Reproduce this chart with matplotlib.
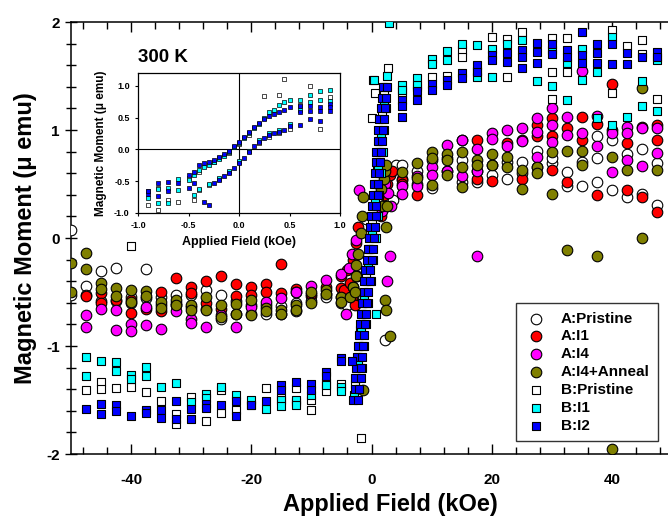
import matplotlib
matplotlib.use("Agg")
import matplotlib.pyplot as plt
from matplotlib.ticker import MultipleLocator

plt.rcParams['font.family'] = ['Liberation Sans', 'DejaVu Sans']
plt.rcParams['font.weight'] = 'bold'
plt.rcParams['axes.labelweight'] = 'bold'

# ---------------- main-plot data (field in kOe, moment in micro-emu) ----------------
A_pristine_x = [-50, -50, -47.5, -47.5, -45, -45, -42.5, -42.5, -40, -40, -37.5, -37.5, -35, -35,
                -32.5, -32.5, -30, -30, -27.5, -27.5, -25, -25, -22.5, -22.5, -20, -20, -17.5, -17.5,
                -15, -15, -12.5, -12.5, -10, -10, -7.5, -7.5, -5, -5,
                -4.0, -3.0, -2.5, -0.9, 2.2, 3.5, 3.0, 4.0,
                5, 5, 7.5, 7.5, 10, 10, 12.5, 12.5, 15, 15, 17.5, 17.5, 20, 20, 22.5, 22.5, 25, 25,
                27.5, 27.5, 30, 30, 32.5, 32.5, 35, 35, 37.5, 37.5, 37.5, 40, 40, 42.5, 42.5,
                45, 45, 47.5, 47.5]
A_pristine_y = [0.07, -0.53, -0.44, -0.53, -0.31, -0.58, -0.28, -0.58, -0.55, -0.60, -0.29, -0.56, -0.55, -0.62,
                -0.53, -0.62, -0.53, -0.64, -0.48, -0.66, -0.53, -0.75, -0.58, -0.70, -0.62, -0.70, -0.62, -0.70,
                -0.63, -0.70, -0.60, -0.68, -0.54, -0.58, -0.52, -0.55, -0.55, -0.60,
                -0.62, -0.55, -0.30, 0.18, -0.94, 0.35, 0.62, 0.68,
                0.68, 0.55, 0.62, 0.50, 0.72, 0.46, 0.74, 0.62, 0.72, 0.52, 0.62, 0.52, 0.68, 0.58, 0.70, 0.55, 0.70, 0.60,
                0.81, 0.66, 0.69, 0.74, 0.61, 0.48, 0.48, 0.70, 0.94, 0.74, 0.52, 0.91, 0.44, 0.78, 0.38,
                0.82, 0.41, 0.69, 0.31]

A_I1_x = [-47.5, -45, -45, -42.5, -40, -40, -37.5, -35, -35, -32.5, -32.5, -30, -30, -27.5, -27.5,
          -25, -25, -22.5, -22.5, -20, -20, -17.5, -17.5, -15, -15, -12.5, -12.5, -10, -7.5, -5, -5,
          -4.5, -4.0, -3.6, -3.3, -3.0, -2.8, -2.6, -2.2, 1.6, 2.0, 2.4, 2.6, 3.0, 3.4,
          5, 5, 7.5, 15, 17.5, 17.5, 20, 22.5, 25, 25, 27.5, 27.5, 30, 30, 30, 32.5, 32.5,
          35, 35, 37.5, 37.5, 40, 40, 42.5, 42.5, 45, 45, 47.5, 47.5, 47.5]
A_I1_y = [-0.54, -0.51, -0.60, -0.57, -0.57, -0.69, -0.66, -0.50, -0.68, -0.37, -0.60, -0.45, -0.51, -0.40, -0.60,
          -0.35, -0.66, -0.43, -0.54, -0.45, -0.53, -0.43, -0.50, -0.24, -0.51, -0.47, -0.50, -0.52, -0.45, -0.35, -0.46,
          -0.48, -0.30, -0.42, -0.55, -0.20, -0.62, -0.05, 0.10, 0.20, 0.40, 0.30, 0.50, 0.58, 0.62,
          0.54, 0.50, 0.40, 0.91, 0.91, 0.55, 0.53, 0.88, 0.91, 0.55, 1.05, 0.94, 1.11, 0.94, 0.63, 1.02, 0.52,
          1.12, 0.91, 1.06, 0.40, 1.43, 1.00, 0.88, 0.44, 1.03, 0.38, 1.05, 0.91, 0.24]

A_I4_x = [-47.5, -47.5, -45, -42.5, -42.5, -40, -40, -37.5, -37.5, -35, -32.5, -30, -30, -27.5,
          -25, -22.5, -20, -17.5, -15, -12.5, -10, -7.5, -5,
          -4.2, -3.8, -3.3, -3.0, -2.6, -2.4, -2.0, 1.8, 2.2, 2.6, 2.8, 3.0, 3.3,
          5, 5, 7.5, 7.5, 10, 10, 12.5, 12.5, 15, 15, 17.5, 17.5, 17.5, 20, 20, 22.5, 22.5, 25, 25,
          27.5, 27.5, 27.5, 30, 30, 30, 32.5, 32.5, 35, 35, 37.5, 37.5, 40, 40, 42.5, 42.5, 42.5,
          45, 45, 47.5, 47.5]
A_I4_y = [-0.71, -0.82, -0.66, -0.67, -0.85, -0.80, -0.86, -0.64, -0.81, -0.84, -0.68, -0.75, -0.79, -0.82,
          -0.71, -0.82, -0.64, -0.59, -0.56, -0.50, -0.44, -0.39, -0.33,
          -0.70, -0.28, -0.15, -0.45, -0.02, -0.35, 0.44, 0.25, 0.50, -0.40, 0.42, -0.17, 0.30,
          0.48, 0.41, 0.57, 0.48, 0.66, 0.58, 0.86, 0.62, 0.91, 0.57, 0.82, 0.62, -0.17, 0.97, 0.92, 1.00, 0.85, 1.02, 0.90,
          1.11, 0.98, 0.75, 1.20, 1.05, 0.89, 1.12, 0.95, 0.97, 1.55, 1.13, 0.85, 0.97, 0.61, 1.03, 0.97, 0.72,
          1.02, 0.67, 1.02, 0.79]

A_I4A_x = [-50, -50, -47.5, -47.5, -45, -45, -42.5, -42.5, -40, -40, -37.5, -37.5, -35, -35,
           -32.5, -32.5, -30, -30, -27.5, -27.5, -25, -25, -22.5, -22.5, -20, -20, -17.5, -17.5,
           -15, -15, -12.5, -12.5, -10, -10, -7.5, -7.5, -5, -5,
           -3.5, -3.0, -2.8, -2.6, -2.5, -2.2, -1.8, -1.6, -1.4, 1.5, 1.8, 2.0, 2.2, 2.4, 2.4, 2.5,
           2.2, 2.4, 3.0, -1.4,
           5, 7.5, 7.5, 10, 10, 10, 12.5, 12.5, 12.5, 15, 15, 15, 17.5, 17.5, 20, 20, 22.5, 22.5,
           25, 25, 27.5, 27.5, 30, 30, 32.5, 32.5, 35, 35, 37.5, 40, 40, 42.5, 45, 45, 47.5]
A_I4A_y = [-0.23, -0.50, -0.14, -0.29, -0.42, -0.47, -0.46, -0.54, -0.48, -0.59, -0.49, -0.54, -0.59, -0.65,
           -0.57, -0.62, -0.62, -0.67, -0.55, -0.67, -0.62, -0.73, -0.61, -0.70, -0.57, -0.71, -0.65, -0.68,
           -0.67, -0.70, -0.62, -0.67, -0.50, -0.60, -0.48, -0.52, -0.55, -0.59,
           -0.55, -0.45, -0.50, -0.35, -0.25, -0.15, 0.05, 0.20, 0.38, 0.45, 0.30, 0.55, 0.62, 0.68, 0.10, 0.30,
           -0.57, -0.67, -0.91, -1.41,
           0.61, 0.69, 0.56, 0.80, 0.74, 0.49, 0.78, 0.72, 0.58, 0.80, 0.66, 0.47, 0.72, 0.68, 0.78, 0.68, 0.75, 0.66,
           0.63, 0.45, 0.66, 0.60, 0.80, 0.41, 0.81, -0.11, 0.81, 0.68, -0.17, 0.75, -1.95, 0.63, 1.39, 0.00, 0.63]

B_pristine_x = [-47.5, -45, -45, -42.5, -40, -40, -37.5, -35, -32.5, -32.5, -30, -27.5, -25, -25,
                -22.5, -20, -17.5, -15, -12.5, -12.5, -10, -10, -7.5, -5, -1.7,
                -2.8, -2.3, -1.9, -1.4, -0.9, -0.4, 0.1, 0.5, 0.9, 1.3, 1.7, 2.1, 0.2, 0.5, 0.0, 2.7,
                5, 7.5, 10, 12.5, 15, 15, 17.5, 20, 22.5, 22.5, 25, 30, 30, 30, 32.5, 32.5,
                40, 40, 42.5, 45, 45, 47.5]
B_pristine_y = [-1.41, -1.33, -1.40, -1.39, -1.38, -0.07, -1.43, -1.51, -1.63, -1.72, -1.47, -1.69, -1.41, -1.62,
                -1.59, -1.55, -1.39, -1.48, -1.39, -1.52, -1.50, -1.59, -1.42, -1.35, -1.85,
                -1.35, -1.10, -0.85, -0.60, -0.35, -0.10, 0.15, 0.40, 0.65, 0.90, 1.15, 1.35, 1.46, 1.34, 1.11, 1.57,
                1.35, 1.40, 1.49, 1.50, 1.74, 1.68, 1.55, 1.86, 1.84, 1.49, 1.91, 1.85, 1.54, 1.29, 1.85, 1.54,
                1.93, 1.34, 1.78, 1.83, 1.70, 1.29]

B_I1_x = [-47.5, -47.5, -45, -42.5, -42.5, -40, -40, -37.5, -37.5, -35, -32.5, -30, -27.5, -27.5,
          -25, -22.5, -20, -17.5, -15, -15, -12.5, -12.5, -10, -7.5, -7.5, -5, -5,
          -2.9, -2.6, -2.3, -2.1, -1.8, -1.5, -1.2, -0.9, -0.6, -0.3, 0.0, 0.3, 0.5, 0.8, 1.0, 1.3, 1.5,
          1.7, 2.0, 2.3, 2.6, 2.9,
          -2.0, -1.6, -1.3, -0.9, -0.5, -0.1, 0.3, 0.7, 1.0, 1.3, 1.6, 1.9, 2.1, 2.4, 0.8, 0.4,
          5, 5, 7.5, 7.5, 10, 10, 12.5, 12.5, 15, 17.5, 17.5, 20, 20, 22.5, 25, 27.5, 30, 30,
          32.5, 32.5, 35, 35, 37.5, 37.5, 40, 40, 42.5, 45, 45, 47.5, 47.5]
B_I1_y = [-1.10, -1.28, -1.14, -1.15, -1.23, -1.27, -1.31, -1.19, -1.28, -1.38, -1.34, -1.52, -1.44, -1.48,
          -1.38, -1.45, -1.50, -1.58, -1.50, -1.56, -1.50, -1.55, -1.45, -1.34, -1.36, -1.38, -1.42,
          -1.45, -1.30, -1.15, -1.00, -0.85, -0.70, -0.55, -0.40, -0.25, -0.10, 0.05, 0.20, 0.35, 0.50, 0.65, 0.80, 0.95,
          1.10, 1.25, 1.40, 1.50, 1.99,
          -1.40, -1.20, -1.00, -0.80, -0.60, -0.40, -0.20, 0.00, 0.20, 0.40, 0.60, 0.80, 1.00, 1.20, -0.70, 1.46,
          1.42, 1.37, 1.48, 1.42, 1.66, 1.61, 1.73, 1.65, 1.80, 1.79, 1.49, 1.75, 1.49, 1.80, 1.83, 1.45, 1.74, 1.41,
          1.62, 1.28, 1.75, 1.46, 1.54, 1.11, 1.86, 1.05, 1.12, 1.45, 1.22, 1.65, 1.18]

B_I2_x = [-47.5, -45, -45, -42.5, -42.5, -40, -37.5, -37.5, -35, -35, -32.5, -32.5, -30, -30, -27.5, -27.5,
          -25, -22.5, -22.5, -20, -17.5, -15, -15, -12.5, -10, -10, -7.5, -7.5, -5, -5,
          -3.0, -2.8, -2.7, -2.5, -2.4, -2.2, -2.0, -1.9, -1.7, -1.5, -1.3, -1.2, -1.0, -0.8, -0.6,
          -0.4, -0.3, -0.1, 0.1, 0.2, 0.4, 0.5, 0.7, 0.8, 1.0, 1.1, 1.3, 1.5, 1.7, 1.9,
          -2.2, -2.0, -1.8, -1.7, -1.5, -1.4, -1.2, -1.0, -0.9, -0.7, -0.5, -0.3, -0.2, 0.0, 0.2,
          0.4, 0.5, 0.7, 0.8, 1.0, 1.1, 1.3, 1.4, 1.6, 1.7, 1.9, 2.0, 2.2, 2.4, 2.6, -3.2,
          5, 5, 5, 7.5, 7.5, 10, 10, 12.5, 12.5, 15, 15, 17.5, 17.5, 20, 20, 22.5, 22.5,
          25, 25, 25, 27.5, 27.5, 27.5, 30, 30, 32.5, 32.5, 35, 35, 35, 37.5, 37.5, 37.5,
          40, 40, 42.5, 42.5, 45, 47.5, 47.5]
B_I2_y = [-1.58, -1.54, -1.63, -1.55, -1.60, -1.65, -1.59, -1.62, -1.59, -1.67, -1.51, -1.68, -1.58, -1.68, -1.54, -1.57,
          -1.55, -1.51, -1.65, -1.55, -1.51, -1.36, -1.41, -1.33, -1.35, -1.41, -1.24, -1.28, -1.11, -1.14,
          -1.50, -1.40, -1.30, -1.20, -1.10, -1.00, -0.90, -0.80, -0.70, -0.60, -0.50, -0.40, -0.30, -0.20, -0.10,
          0.00, 0.10, 0.20, 0.30, 0.40, 0.50, 0.60, 0.70, 0.80, 0.90, 1.00, 1.10, 1.20, 1.30, 1.40,
          -1.50, -1.40, -1.30, -1.20, -1.10, -1.00, -0.90, -0.80, -0.70, -0.60, -0.50, -0.40, -0.30, -0.20, -0.10,
          0.00, 0.10, 0.20, 0.30, 0.40, 0.50, 0.60, 0.70, 0.80, 0.90, 1.00, 1.10, 1.20, 1.30, 1.40, -1.14,
          1.28, 1.22, 1.12, 1.36, 1.28, 1.43, 1.37, 1.46, 1.42, 1.53, 1.48, 1.60, 1.54, 1.69, 1.65, 1.71, 1.63,
          1.74, 1.68, 1.57, 1.81, 1.72, 1.62, 1.80, 1.70, 1.74, 1.68, 1.91, 1.69, 1.62, 1.80, 1.71, 1.62,
          1.80, 1.61, 1.71, 1.61, 1.68, 1.72, 1.68]

# ---------------- inset data (300 K, field in kOe) ----------------
ins_B_pristine_x = [-0.9, -0.9, -0.8, -0.8, -0.7, -0.6, -0.5, -0.45, -0.4, -0.4, -0.3, -0.25, -0.2, -0.2,
                    -0.1, -0.1, 0.0, 0.0, 0.1, 0.1, 0.2, 0.25, 0.3, 0.4, 0.4, 0.45, 0.5, 0.6, 0.7, 0.8, 0.9]
ins_B_pristine_y = [-0.66, -0.87, -0.61, -0.95, -0.79, -0.82, -0.45, -0.79, -0.36, -0.64, -0.56, -0.20, -0.47, -0.14,
                    -0.35, -0.05, 0.08, -0.20, 0.22, -0.03, 0.10, 0.84, 0.20, 0.85, 0.26, 1.11, 0.32, 0.70, 1.00, 0.32, 0.82]

ins_B_I1_x = [-0.9, -0.8, -0.8, -0.7, -0.7, -0.6, -0.6, -0.5, -0.45, -0.45, -0.4, -0.35, -0.3, -0.25, -0.2, -0.15,
              -0.1, -0.05, 0.0, 0.05, 0.1, 0.15, 0.2, 0.25, 0.3, 0.35, 0.4, 0.45, 0.5,
              -0.4, -0.3, -0.2, -0.1, 0.0, 0.1, 0.2, 0.3, 0.4, 0.5,
              0.6, 0.6, 0.7, 0.7, 0.8, 0.8, 0.9, 0.9]
ins_B_I1_y = [-0.76, -0.85, -0.62, -0.60, -0.85, -0.47, -0.64, -0.48, -0.40, -0.72, -0.32, -0.28, -0.25, -0.20, -0.15, -0.10,
              -0.04, 0.03, 0.10, 0.18, 0.26, 0.33, 0.40, 0.50, 0.58, 0.62, 0.70, 0.75, 0.78,
              -0.62, -0.55, -0.45, -0.34, -0.18, -0.02, 0.14, 0.25, 0.31, 0.40,
              0.78, 0.62, 0.86, 0.75, 0.92, 0.78, 0.94, 0.76]

ins_B_I2_x = [-0.9, -0.9, -0.8, -0.8, -0.7, -0.7, -0.6, -0.5, -0.5, -0.45, -0.45, -0.4, -0.35, -0.35, -0.3, -0.3,
              -0.25, -0.2, -0.15, -0.1, -0.05, 0.0, 0.05, 0.1, 0.15, 0.2, 0.25, 0.3, 0.35, 0.4, 0.45, 0.5,
              -0.25, -0.2, -0.15, -0.1, -0.05, 0.0, 0.05, 0.1, 0.15, 0.2, 0.25, 0.3, 0.35, 0.4, 0.45, 0.5,
              0.6, 0.6, 0.6, 0.7, 0.7, 0.7, 0.8, 0.8, 0.8, 0.9, 0.9, 0.9]
ins_B_I2_y = [-0.70, -0.66, -0.53, -0.73, -0.52, -0.66, -0.53, -0.40, -0.61, -0.36, -0.53, -0.24, -0.22, -0.82, -0.20, -0.87,
              -0.17, -0.12, -0.08, -0.02, 0.05, 0.12, 0.20, 0.28, 0.35, 0.42, 0.48, 0.52, 0.55, 0.58, 0.62, 0.66,
              -0.53, -0.48, -0.42, -0.37, -0.30, -0.22, -0.13, -0.04, 0.06, 0.12, 0.18, 0.22, 0.25, 0.28, 0.30, 0.36,
              0.68, 0.58, 0.38, 0.68, 0.60, 0.48, 0.66, 0.60, 0.44, 0.72, 0.66, 0.60]

# ---------------- styles ----------------
series = [
    ("A:Pristine", A_pristine_x, A_pristine_y, "o", "white"),
    ("A:I1", A_I1_x, A_I1_y, "o", "#ff0000"),
    ("A:I4", A_I4_x, A_I4_y, "o", "#ff00ff"),
    ("A:I4+Anneal", A_I4A_x, A_I4A_y, "o", "#808000"),
    ("B:Pristine", B_pristine_x, B_pristine_y, "s", "white"),
    ("B:I1", B_I1_x, B_I1_y, "s", "#00ffff"),
    ("B:I2", B_I2_x, B_I2_y, "s", "#0000ff"),
]
inset_series = [
    (ins_B_pristine_x, ins_B_pristine_y, "white"),
    (ins_B_I1_x, ins_B_I1_y, "#00ffff"),
    (ins_B_I2_x, ins_B_I2_y, "#0000ff"),
]

W, H = 668, 516
fig = plt.figure(figsize=(W / 100, H / 100), dpi=100)
ax = fig.add_axes([71 / W, 62 / H, 601 / W, 432 / H])

for label, xs, ys, mk, col in series:
    size = 58 if mk == "o" else 38
    ax.scatter(xs, ys, s=size, marker=mk, facecolor=col, edgecolor="black",
               linewidths=0.8, label=label, zorder=3)

ax.set_xlim(-50, 50)
ax.set_ylim(-2, 2)
ax.xaxis.set_major_locator(MultipleLocator(20))
ax.xaxis.set_minor_locator(MultipleLocator(4))
ax.yaxis.set_major_locator(MultipleLocator(1))
ax.yaxis.set_minor_locator(MultipleLocator(0.2))
ax.tick_params(axis="x", which="both", direction="in", top=True, labelsize=11, width=1, pad=14)
ax.tick_params(axis="x", which="major", length=7)
ax.tick_params(axis="x", which="minor", length=5)
ax.tick_params(axis="y", which="both", direction="inout", labelsize=11, width=1)
ax.tick_params(axis="y", which="major", length=9)
ax.tick_params(axis="y", which="minor", length=7)
for sp in ax.spines.values():
    sp.set_linewidth(1.1)
ax.set_xticks([-40, -20, 0, 20, 40])
ax.set_xticklabels(["-40", "-20", "0", "20", "40"])
ax.set_yticks([-2, -1, 0, 1, 2])
ax.set_yticklabels(["-2", "-1", "0", "1", "2"])

ax.set_xlabel("Applied Field (kOe)", fontsize=17, fontweight="bold")
ax.xaxis.set_label_coords((390 - 71) / 601, -0.091)
ax.set_ylabel("Magnetic Moment (\u03bc emu)", fontsize=17, fontweight="bold")
ax.yaxis.set_label_coords(-0.056, 0.5)

leg = fig.legend(loc="lower right", bbox_to_anchor=(658 / W, 75 / H), bbox_transform=fig.transFigure,
                 borderaxespad=0, fontsize=11, frameon=True, fancybox=False, edgecolor="black",
                 handlelength=1.5, handletextpad=0.9, borderpad=0.55, labelspacing=0.25,
                 scatterpoints=1)
leg.get_frame().set_linewidth(1.0)
for t in leg.get_texts():
    t.set_fontweight("bold")

# ---------------- inset ----------------
ins = fig.add_axes([138 / W, (H - 213) / H, 202 / W, 140 / H])
ins.set_facecolor("white")
ins.axhline(0, color="black", lw=0.8, zorder=1)
ins.axvline(0, color="black", lw=0.8, zorder=1)
for xs, ys, col in inset_series:
    ins.scatter(xs, ys, s=12, marker="s", facecolor=col, edgecolor="black", linewidths=0.5, zorder=3)
ins.set_xlim(-1, 1)
ins.set_ylim(-1, 1.2)
ins.set_xticks([-1.0, -0.5, 0.0, 0.5, 1.0])
ins.set_xticklabels(["-1.0", "-0.5", "0.0", "0.5", "1.0"])
ins.set_yticks([-1.0, -0.5, 0.0, 0.5, 1.0])
ins.set_yticklabels(["-1.0", "-0.5", "0.0", "0.5", "1.0"])
ins.tick_params(labelsize=6.5, length=2, width=0.8, direction="out", pad=4)
for sp in ins.spines.values():
    sp.set_linewidth(0.9)
ins.set_xlabel("Applied Field (kOe)", fontsize=9, fontweight="bold", labelpad=4)
ins.set_ylabel("Magnetic Moment (\u03bc emu)", fontsize=8.5, fontweight="bold", labelpad=5)
fig.text(138 / W, 1 - 57 / H, "300 K", fontsize=13.5, fontweight="bold", ha="left", va="center")

fig.savefig("out.png", dpi=100)
